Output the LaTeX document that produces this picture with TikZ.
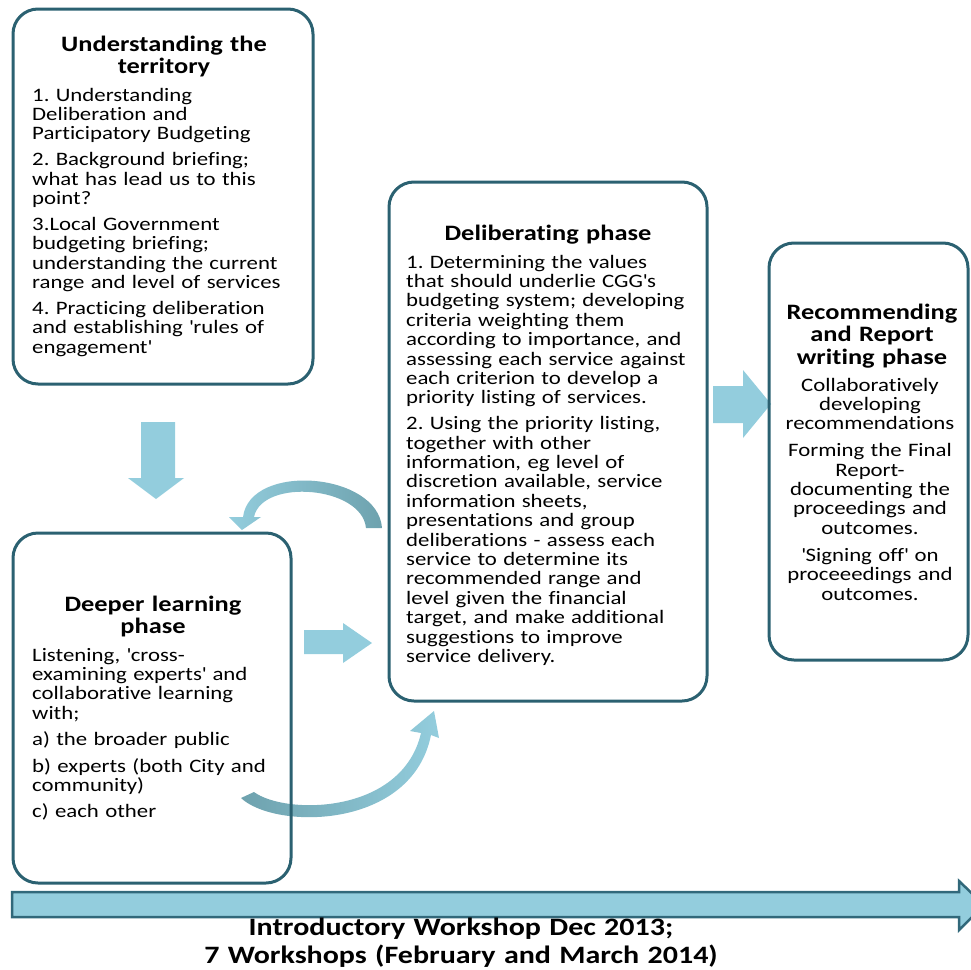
\documentclass[tikz,border=0pt]{standalone}
\usepackage{fontspec}
\setmainfont{Carlito}[FakeStretch=1.2, Ligatures={CommonOff,TeXOff}]
\frenchspacing
\definecolor{frame}{HTML}{2B6171}
\definecolor{flow}{HTML}{93CDDD}
\definecolor{flowdark}{HTML}{6EA2AE}
\definecolor{flowedge}{HTML}{31687A}

\begin{document}
\begin{tikzpicture}[x=1pt,y=-1pt,
  phase/.style={draw=frame, line width=3pt, rounded corners=25pt, inner sep=0pt},
  blockarrow/.style={fill=flow, draw=none},
  head/.style={font=\bfseries\fontsize{22}{22.5}\selectfont, align=center, inner sep=0pt, anchor=base, text width=#1},
  body/.style={font=\fontsize{19}{19.4}\selectfont, align=left, inner sep=0pt, anchor=base west, text width=#1},
  cbody/.style={font=\fontsize{19}{19.4}\selectfont, align=center, inner sep=0pt, anchor=base, text width=#1},
  timeline/.style={font=\bfseries\fontsize{25}{27.5}\selectfont, align=center, inner sep=0pt, anchor=base, text width=#1},
]
\useasboundingbox (0,0) rectangle (971,969);

% straight block arrows between the phases
\fill[blockarrow] (141,422) -- (175,422) -- (175,478) -- (184,478) -- (156,499) -- (128,478) -- (141,478) -- cycle;
\fill[blockarrow] (304,630) -- (343,630) -- (343,623) -- (372,643) -- (343,663) -- (343,654) -- (304,654) -- cycle;
\fill[blockarrow] (713,386) -- (743,386) -- (743,370) -- (771,404) -- (743,438) -- (743,423) -- (713,423) -- cycle;

% curved feedback arrow: deliberating back to deeper learning
\shade[left color=flow, middle color=flow, right color=flowdark]
  (382,528) .. controls (378,472) and (250,462) .. (243,517)
  -- (229,517) -- (242,530) -- (261,517) -- (254,517)
  .. controls (262,478) and (362,486) .. (366,528) -- cycle;

% curved arrow: deeper learning into deliberating
\shade[left color=flowdark, right color=flow]
  (241,798) .. controls (275,830) and (412,830) .. (431,735)
  -- (439,738) -- (434,711) -- (410,731) -- (421,733)
  .. controls (402,815) and (285,815) .. (254,792) -- cycle;

% timeline arrow
\draw[fill=flow, draw=flowedge, line width=2.5pt, line join=miter]
  (12,892) -- (959,892) -- (959,881) -- (984,905) -- (959,930) -- (959,917) -- (12,917) -- cycle;

% phase boxes
\node[phase, minimum width=300, minimum height=375] (territory) at (163,196.5) {};
\node[phase, minimum width=278, minimum height=350] (learning) at (152,708) {};
\node[phase, minimum width=318, minimum height=519] (deliberating) at (548,441.5) {};
\node[phase, minimum width=199, minimum height=417] (reporting) at (868.5,451.5) {};

% texts of the first phase
\node[head=290] (t1title) at (164,51) {Understanding the\\territory};
\node[body=290] (t1body) at (32,101) {1. Understanding\\Deliberation and\\Participatory Budgeting\\[6.5pt]
2. Background briefing;\\what has lead us to this\\point?\\[6.5pt]
3.Local Government\\budgeting briefing;\\understanding the current\\range and level of services\\[6.5pt]
4. Practicing deliberation\\and establishing \textquotesingle rules of\\engagement\textquotesingle};

% texts of the deeper learning phase
\node[head=270] (t2title) at (153,611) {Deeper learning\\phase};
\node[body=270] (t2body) at (32,661) {Listening, \textquotesingle cross-\\examining experts\textquotesingle\ and\\collaborative learning\\with;\\[7pt]
a) the broader public\\[7pt]
b) experts (both City and\\community)\\[7pt]
c) each other};

% texts of the deliberating phase
\node[head=310] (t3title) at (548,240) {Deliberating phase};
\node[body=310] (t3body) at (406,268) {1. Determining the values\\that should underlie CGG\textquotesingle s\\budgeting system; developing\\criteria weighting them\\according to importance, and\\assessing each service against\\each criterion to develop a\\priority listing of services.\\[6.5pt]
2. Using the priority listing,\\together with other\\information, eg level of\\discretion available, service\\information sheets,\\presentations and group\\deliberations - assess each\\service to determine its\\recommended range and\\level given the financial\\target, and make additional\\suggestions to improve\\service delivery.};

% texts of the reporting phase
\node[head=200] (t4title) at (872,319) {Recommending\\and Report\\writing phase};
\node[cbody=200] (t4body) at (870,391) {Collaboratively\\developing\\recommendations\\[7.5pt]
Forming the Final\\Report-\\documenting the\\proceedings and\\outcomes.\\[7.5pt]
\textquotesingle Signing off\textquotesingle\ on\\proceeedings and\\outcomes.};

% timeline caption
\node[timeline=700] (caption) at (461,935.5) {Introductory Workshop Dec 2013;\\7 Workshops (February and March 2014)};
\end{tikzpicture}
\end{document}
